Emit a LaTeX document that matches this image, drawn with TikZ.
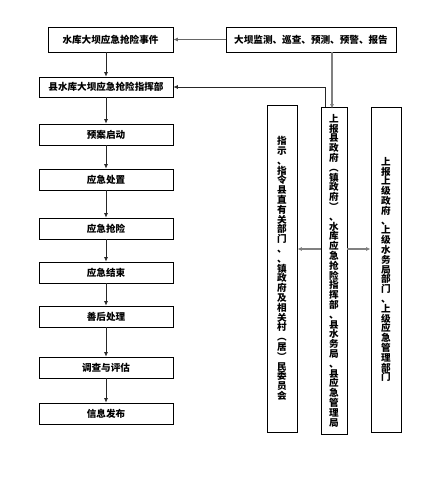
\documentclass[tikz,border=0pt]{standalone}
\usepackage{fontspec}
\newfontfamily\cjk{Noto Sans CJK SC}
\usetikzlibrary{arrows.meta}
\tikzset{
  box/.style={draw=black, line width=0.8pt, fill=white, inner sep=0pt, align=center,
    font=\cjk\bfseries\fontsize{9.6}{9.8}\selectfont},
  hbox/.style={box, minimum width=134pt, minimum height=21pt},
  vbox/.style={box, minimum width=30pt},
  blk/.style={draw=black!85, line width=0.7pt, -{Latex[length=4.5pt,width=4pt]}},
  gry/.style={draw=black!50, line width=1.3pt, -{Latex[length=4.5pt,width=4pt,fill=black!80]}},
}
\begin{document}
\begin{tikzpicture}[x=1pt,y=-1pt]
\useasboundingbox (0,0) rectangle (446,504);
\node[box, minimum width=125pt, minimum height=25pt] (ev) at (110.5,39.5) {水库大坝应急抢险事件};
\node[box, minimum width=170pt, minimum height=25pt] (mon) at (311,39.5) {大坝监测、巡查、预测、预警、报告};
\node[hbox, minimum height=20pt] (cmd) at (106,87) {县水库大坝应急抢险指挥部};
\node[hbox] (s1) at (106,134.5) {预案启动};
\node[hbox] (s2) at (106,179.5) {应急处置};
\node[hbox] (s3) at (106,228.5) {应急抢险};
\node[hbox] (s4) at (106,272.5) {应急结束};
\node[hbox] (s5) at (106,316.5) {善后处理};
\node[hbox] (s6) at (106,367.5) {调查与评估};
\node[hbox] (s7) at (106,413.5) {信息发布};

\node[vbox, minimum height=327pt] (vl) at (282,268.5) {指\\示\\、\\指\\令\\县\\直\\有\\关\\部\\门\\、\\、\\镇\\政\\府\\及\\相\\关\\村\\︵\\居\\︶\\民\\委\\员\\会};
\node[vbox, minimum width=26pt, minimum height=327pt] (vm) at (334,270.5) {上\\报\\县\\政\\府\\︵\\镇\\政\\府\\︶\\、\\水\\库\\应\\急\\抢\\险\\指\\挥\\部\\、\\县\\水\\务\\局\\、\\县\\应\\急\\管\\理\\局};
\node[vbox, minimum height=325pt] (vr) at (386,269.5) {上\\报\\上\\级\\政\\府\\、\\上\\级\\水\\务\\局\\部\\门\\、\\上\\级\\应\\急\\管\\理\\部\\门};

\draw[blk, draw=black!60] (mon) -- (ev);
\draw[blk] (ev.south -| cmd.north) -- (cmd.north);
\draw[blk] (cmd) -- (s1);
\draw[blk] (s1) -- (s2);
\draw[blk] (s2) -- (s3);
\draw[blk] (s3) -- (s4);
\draw[blk] (s4) -- (s5);
\draw[blk] (s5) -- (s6);
\draw[blk] (s6) -- (s7);
\coordinate (mt) at (325,0);
\draw[blk] (vm.north -| mt) |- (cmd.east);
\draw[gry] (mon.south -| 332,0) -- ([yshift=-2pt]vm.north -| 332,0);
\coordinate (ya) at (0,249);
\draw[gry] (vm.west |- ya) -- (vl.east |- ya);
\draw[gry] (vm.east |- ya) -- (vr.west |- ya);
\end{tikzpicture}
\end{document}
